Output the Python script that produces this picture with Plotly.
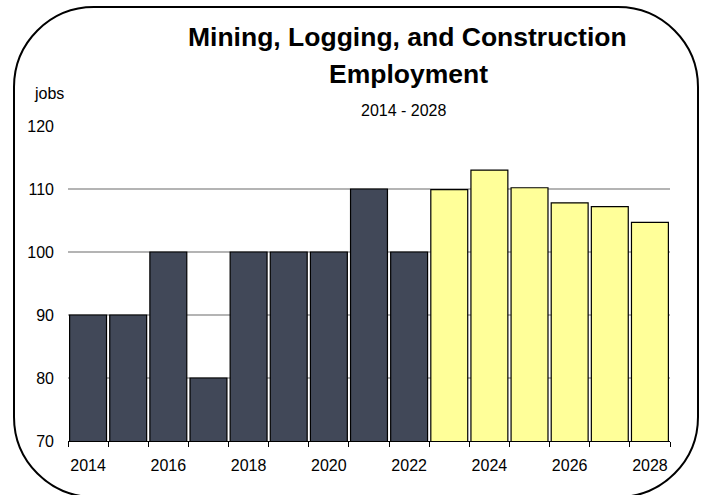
import plotly.graph_objects as go

# Employment (jobs) by year: actuals and projections
actual_years = [2014, 2015, 2016, 2017, 2018, 2019, 2020, 2021, 2022]
actual_jobs = [90, 90, 100, 80, 100, 100, 100, 110, 100]
proj_years = [2023, 2024, 2025, 2026, 2027, 2028]
proj_jobs = [109.9, 113.0, 110.2, 107.8, 107.2, 104.7]
label_years = [2014, 2016, 2018, 2020, 2022, 2024, 2026, 2028]
y_ticks = [70, 80, 90, 100, 110, 120]

W, H = 708, 495
ML, MR, MT, MB = 68, 38, 126, 54
PW, PH = W - ML - MR, H - MT - MB

FONT = "Liberation Sans, Arial, sans-serif"


def px(x):
    return (x - ML) / PW


def py(y):
    return (H - MB - y) / PH


def rounded_rect(x0, y0, x1, y1, r):
    k = 0.5523 * r
    pts = [
        ("M", [(x0 + r, y0)]),
        ("L", [(x1 - r, y0)]),
        ("C", [(x1 - r + k, y0), (x1, y0 + r - k), (x1, y0 + r)]),
        ("L", [(x1, y1 - r)]),
        ("C", [(x1, y1 - r + k), (x1 - r + k, y1), (x1 - r, y1)]),
        ("L", [(x0 + r, y1)]),
        ("C", [(x0 + r - k, y1), (x0, y1 - r + k), (x0, y1 - r)]),
        ("L", [(x0, y0 + r)]),
        ("C", [(x0, y0 + r - k), (x0 + r - k, y0), (x0 + r, y0)]),
    ]
    parts = []
    for cmd, coords in pts:
        parts.append(cmd + " ".join(f"{px(a):.5f},{py(b):.5f}" for a, b in coords))
    return " ".join(parts) + " Z"


fig = go.Figure()
fig.add_trace(go.Bar(
    x=actual_years, y=actual_jobs, width=0.92,
    marker=dict(color="#414858", line=dict(color="#000000", width=1.2)),
))
fig.add_trace(go.Bar(
    x=proj_years, y=proj_jobs, width=0.92,
    marker=dict(color="#FFFF99", line=dict(color="#000000", width=1.2)),
))

fig.update_layout(
    width=W, height=H,
    margin=dict(l=ML, r=MR, t=MT, b=MB),
    paper_bgcolor="white", plot_bgcolor="white",
    showlegend=False,
    font=dict(family=FONT, size=16, color="#000000"),
    xaxis=dict(
        range=[2013.5, 2028.5],
        tickvals=label_years, ticktext=[str(v) for v in label_years],
        ticks="", showgrid=False, zeroline=False,
        showline=True, linecolor="#000000", linewidth=1,
        tickfont=dict(family=FONT, size=16),
        ticklabelstandoff=10,
        minor=dict(tick0=2013.5, dtick=1, ticks="outside", ticklen=5,
                   tickcolor="#000000", tickwidth=1, showgrid=False),
    ),
    yaxis=dict(
        range=[70, 120], tickvals=y_ticks,
        ticks="", showline=False, zeroline=False,
        showgrid=True, gridcolor="#b4b4b4", gridwidth=2,
        tickfont=dict(family=FONT, size=16),
        ticklabelstandoff=13,
    ),
    shapes=[dict(
        type="path", xref="paper", yref="paper",
        path=rounded_rect(14, 7, 698, 497, 80),
        line=dict(color="#000000", width=2), fillcolor="rgba(0,0,0,0)",
    )],
    annotations=[
        dict(text="<b>Mining, Logging, and Construction</b>", xref="paper", yref="paper",
             x=px(407), y=py(37), xanchor="center", yanchor="middle", showarrow=False,
             font=dict(family=FONT, size=26.5)),
        dict(text="<b>Employment</b>", xref="paper", yref="paper",
             x=px(408), y=py(74), xanchor="center", yanchor="middle", showarrow=False,
             font=dict(family=FONT, size=26.5)),
        dict(text="2014 - 2028", xref="paper", yref="paper",
             x=px(404), y=py(111), xanchor="center", yanchor="middle", showarrow=False,
             font=dict(family=FONT, size=16)),
        dict(text="jobs", xref="paper", yref="paper",
             x=px(32), y=py(94), xanchor="left", yanchor="middle", showarrow=False,
             font=dict(family=FONT, size=16)),
    ],
)

fig.write_html("out.html")
